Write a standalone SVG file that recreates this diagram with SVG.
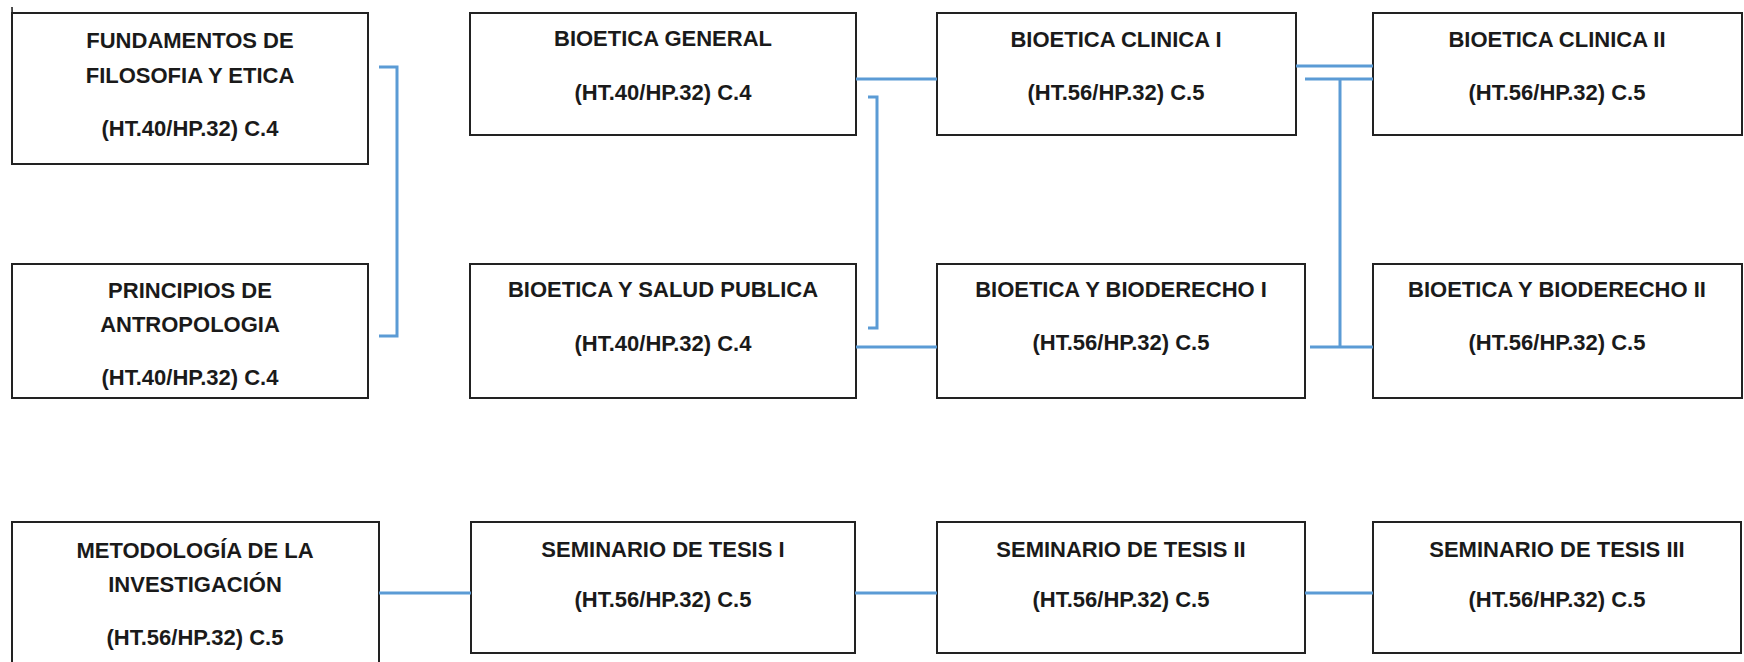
<svg xmlns="http://www.w3.org/2000/svg" width="1744" height="662" viewBox="0 0 1744 662">
<style>
.box{fill:#fff;stroke:#222;stroke-width:2}
.t{font-family:"Liberation Sans",Arial,sans-serif;font-weight:bold;font-size:22px;fill:#1a1a1a;text-anchor:middle}
.c{fill:none;stroke:#5B9BD5;stroke-width:3}
</style>
<rect width="1744" height="662" fill="#fff"/>
<line x1="12" y1="7" x2="13" y2="69" stroke="#111" stroke-width="1.5"/>
<g id="n1"><rect class="box" x="12" y="13" width="356" height="151"/>
<text class="t" x="190" y="48">FUNDAMENTOS DE</text><text class="t" x="190" y="83">FILOSOFIA Y ETICA</text><text class="t" x="190" y="136">(HT.40/HP.32) C.4</text></g>
<g id="n2"><rect class="box" x="12" y="264" width="356" height="134"/>
<text class="t" x="190" y="298">PRINCIPIOS DE</text><text class="t" x="190" y="332">ANTROPOLOGIA</text><text class="t" x="190" y="385">(HT.40/HP.32) C.4</text></g>
<g id="n3"><rect class="box" x="470" y="13" width="386" height="122"/>
<text class="t" x="663" y="46">BIOETICA GENERAL</text><text class="t" x="663" y="100">(HT.40/HP.32) C.4</text></g>
<g id="n4"><rect class="box" x="470" y="264" width="386" height="134"/>
<text class="t" x="663" y="297">BIOETICA Y SALUD PUBLICA</text><text class="t" x="663" y="351">(HT.40/HP.32) C.4</text></g>
<g id="n5"><rect class="box" x="937" y="13" width="359" height="122"/>
<text class="t" x="1116" y="47">BIOETICA CLINICA I</text><text class="t" x="1116" y="100">(HT.56/HP.32) C.5</text></g>
<g id="n6"><rect class="box" x="1373" y="13" width="369" height="122"/>
<text class="t" x="1557" y="47">BIOETICA CLINICA II</text><text class="t" x="1557" y="100">(HT.56/HP.32) C.5</text></g>
<g id="n7"><rect class="box" x="937" y="264" width="368" height="134"/>
<text class="t" x="1121" y="297">BIOETICA Y BIODERECHO I</text><text class="t" x="1121" y="350">(HT.56/HP.32) C.5</text></g>
<g id="n8"><rect class="box" x="1373" y="264" width="369" height="134"/>
<text class="t" x="1557" y="297">BIOETICA Y BIODERECHO II</text><text class="t" x="1557" y="350">(HT.56/HP.32) C.5</text></g>
<g id="n9"><rect class="box" x="12" y="522" width="367" height="150"/>
<text class="t" x="195" y="558">METODOLOGÍA DE LA</text><text class="t" x="195" y="592">INVESTIGACIÓN</text><text class="t" x="195" y="645">(HT.56/HP.32) C.5</text></g>
<g id="n10"><rect class="box" x="471" y="522" width="384" height="131"/>
<text class="t" x="663" y="557">SEMINARIO DE TESIS I</text><text class="t" x="663" y="607">(HT.56/HP.32) C.5</text></g>
<g id="n11"><rect class="box" x="937" y="522" width="368" height="131"/>
<text class="t" x="1121" y="557">SEMINARIO DE TESIS II</text><text class="t" x="1121" y="607">(HT.56/HP.32) C.5</text></g>
<g id="n12"><rect class="box" x="1373" y="522" width="368" height="131"/>
<text class="t" x="1557" y="557">SEMINARIO DE TESIS III</text><text class="t" x="1557" y="607">(HT.56/HP.32) C.5</text></g>
<g id="connectors">
<path class="c" d="M379 67H397V336H379"/>
<path class="c" d="M868 97H877V328H868"/>
<path class="c" d="M856 79H937"/>
<path class="c" d="M856 347H937"/>
<path class="c" d="M1296 66H1373"/>
<path class="c" d="M1305 79H1373"/>
<path class="c" d="M1340 79V347"/>
<path class="c" d="M1310 347H1373"/>
<path class="c" d="M379 593H471"/>
<path class="c" d="M855 593H937"/>
<path class="c" d="M1305 593H1373"/>
</g>
</svg>
